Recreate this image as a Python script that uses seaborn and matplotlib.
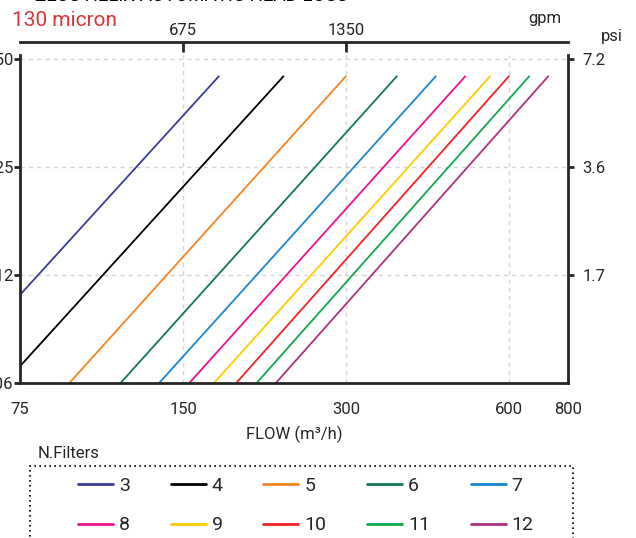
import pandas as pd
import matplotlib
matplotlib.use("Agg")
import matplotlib.pyplot as plt
import seaborn as sns
from matplotlib.patches import Rectangle
from matplotlib.ticker import NullLocator

# head loss lines (start / end points, log-log straight lines)
filters = [3, 4, 5, 6, 7, 8, 9, 10, 11, 12]
flow_start = [75, 75, 92.5, 115, 135.5, 154, 171, 188, 205, 222.5]
flow_end = [174.6, 229.8, 299.6, 372, 439, 497.6, 553, 599, 653, 708]
loss_start = [0.110, 0.0696, 0.0625, 0.0625, 0.0625, 0.0625, 0.0625, 0.0625, 0.0625, 0.0625]
loss_end = [0.4475, 0.4475, 0.4475, 0.4475, 0.4475, 0.4475, 0.4475, 0.4475, 0.4475, 0.4475]
colors = ['#3b3b9b', '#000000', '#f7841f', '#137a52', '#1a88d0',
          '#ec1290', '#ffcc00', '#ee2424', '#12a84f', '#b0307f']

x_ticks = [75, 150, 300, 600, 770]
x_labels = ['75', '150', '300', '600', '800']
bar_ticks = [0.0625, 0.125, 0.25, 0.5]
bar_labels = ['0.06', '0.12', '0.25', '0.50']
psi_ticks = [0.125, 0.25, 0.5]
psi_labels = ['1.7', '3.6', '7.2']
gpm_ticks = [150, 300]
gpm_labels = ['675', '1350']

rows = []
for i, n in enumerate(filters):
    rows.append({'filters': n, 'flow': flow_start[i], 'loss': loss_start[i]})
    rows.append({'filters': n, 'flow': flow_end[i], 'loss': loss_end[i]})
df = pd.DataFrame(rows)

sns.set_style("white")
plt.rcParams['font.family'] = ['Roboto', 'DejaVu Sans']

fig = plt.figure(figsize=(6.36, 5.38), dpi=100)
ax = fig.add_axes([20 / 636, 155 / 538, 548 / 636, 328 / 538])

sns.lineplot(data=df, x='flow', y='loss', hue='filters', hue_order=filters,
             palette=dict(zip(filters, colors)), estimator=None, lw=1.3, ax=ax)
handles, labels = ax.get_legend_handles_labels()
ax.get_legend().remove()

ax.set_xscale('log')
ax.set_yscale('log')
ax.set_xlim(75, 770)
ax.set_ylim(0.0625, 0.513)
ax.set_xticks(x_ticks, x_labels)
ax.set_yticks(bar_ticks, bar_labels)
ax.xaxis.set_minor_locator(NullLocator())
ax.yaxis.set_minor_locator(NullLocator())
ax.grid(True, ls=(0, (3, 3)), color='#d4d4d4', lw=1)
ax.set_axisbelow(True)
ax.spines['top'].set_visible(False)
for s in ['left', 'bottom', 'right']:
    ax.spines[s].set_linewidth(2)
ax.spines['right'].set_visible(False)
ax.tick_params(axis='x', direction='out', length=7, width=2, labelsize=12, pad=7)
ax.tick_params(axis='y', direction='out', length=4.5, width=2, labelsize=12, pad=0.5)
ax.set_xlabel('FLOW (m³/h)', fontsize=12, labelpad=6)
ax.set_ylabel('')

# psi axis on the right
ax2 = ax.twinx()
ax2.set_yscale('log')
ax2.set_ylim(ax.get_ylim())
ax2.set_yticks(psi_ticks, psi_labels)
ax2.yaxis.set_minor_locator(NullLocator())
for s in ['left', 'bottom', 'top']:
    ax2.spines[s].set_visible(False)
ax2.spines['right'].set_linewidth(2)
ax2.tick_params(axis='y', direction='out', length=4.5, width=2, labelsize=12, pad=6)

# gpm axis on top
sec = ax.secondary_xaxis(1.04)
sec.set_xticks(gpm_ticks, gpm_labels)
sec.xaxis.set_minor_locator(NullLocator())
sec.spines['top'].set_linewidth(2)
sec.tick_params(axis='x', direction='in', length=7, width=2, labelsize=12, pad=3)

fig.text(35 / 636, 1 - 1 / 538, 'ZEUS HELIX AUTOMATIC HEAD LOSS', fontsize=13.5,
         color='black', ha='left', va='baseline')
fig.text(12 / 636, 1 - 26 / 538, '130 micron', fontsize=15, color='#d6373a',
         ha='left', va='baseline')
fig.text(545 / 636, 1 - 18 / 538, 'gpm', fontsize=12, ha='center', va='center')
fig.text(612 / 636, 1 - 36 / 538, 'psi', fontsize=12, ha='center', va='center')

# legend: two rows 3..7 / 8..12 (matplotlib fills column by column)
order = [0, 5, 1, 6, 2, 7, 3, 8, 4, 9]
fig.text(38 / 636, 1 - 453 / 538, 'N.Filters', fontsize=12, ha='left', va='center')
fig.add_artist(Rectangle((30 / 636, -0.2), 543 / 636, 0.2 + (538 - 466) / 538,
                         transform=fig.transFigure, fill=False, ec='black',
                         ls=(0, (1, 2)), lw=1.2))
leg = fig.legend([handles[i] for i in order], [labels[i] for i in order],
                 loc='upper left', ncol=5,
                 bbox_to_anchor=(78 / 636, 1 - 477 / 538), frameon=False,
                 fontsize=14, handlelength=1.8, handletextpad=0.3,
                 columnspacing=2.1, labelspacing=1.1, borderpad=0, borderaxespad=0)
for h in leg.legend_handles:
    h.set_linewidth(2)

fig.savefig('out.png', dpi=100)
